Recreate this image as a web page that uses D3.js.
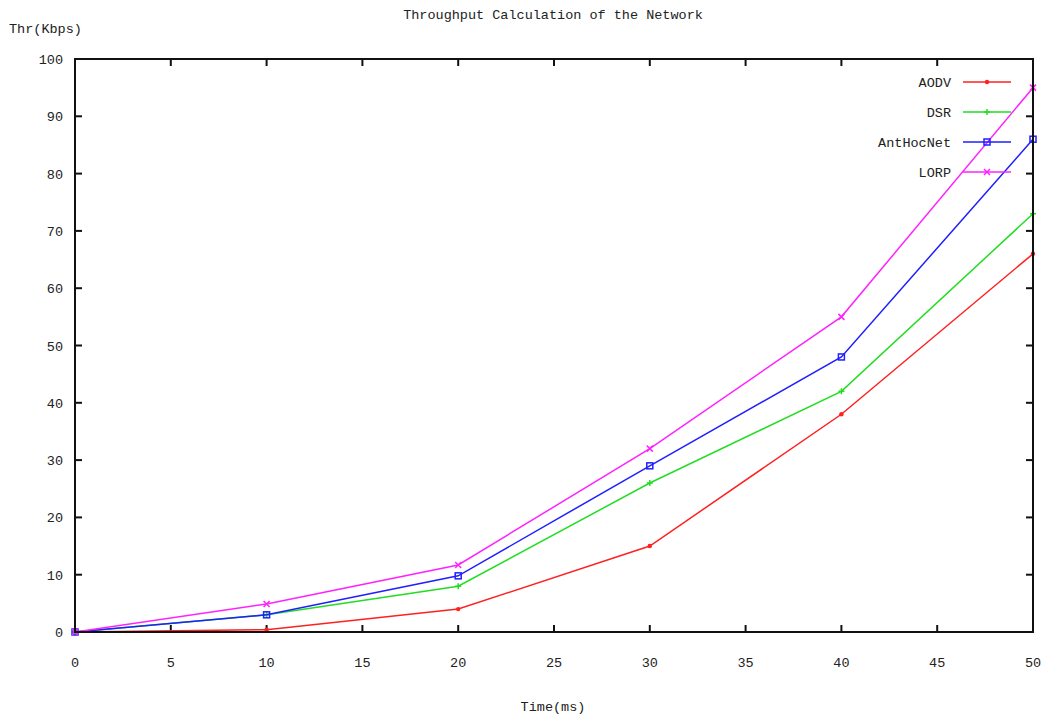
<!DOCTYPE html>
<html><head><meta charset="utf-8">
<script src="https://cdn.jsdelivr.net/npm/d3@7"></script>
<style>body{margin:0;background:#fff}svg{display:block}text{font-family:"Liberation Mono","DejaVu Sans Mono",monospace;fill:#222}</style>
</head><body>
<svg id="c" width="1049" height="717"></svg>
<script>
const xValues = [0, 10, 20, 30, 40, 50];
const aodv = [0, 0.4, 4, 15, 38, 66];
const dsr = [0, 3, 8, 26, 42, 73];
const antHocNet = [0, 3, 9.8, 29, 48, 86];
const lorp = [0, 4.9, 11.7, 32, 55, 95];
const seriesNames = ["AODV", "DSR", "AntHocNet", "LORP"];
const seriesColors = ["#ff2020", "#22dd22", "#1f1fff", "#ff22ff"];
const seriesMarkers = ["dot", "plus", "square", "cross"];
const xTicks = [0,5,10,15,20,25,30,35,40,45,50];
const yTicks = [0,10,20,30,40,50,60,70,80,90,100];
const title = "Throughput Calculation of the Network";
const xLabel = "Time(ms)";
const yLabel = "Thr(Kbps)";

const series = [aodv, dsr, antHocNet, lorp].map((v,i)=>({name:seriesNames[i], color:seriesColors[i], marker:seriesMarkers[i], values:v}));

const svg = d3.select("#c");
const L=75, R=1033, T=59, B=632;
const x = d3.scaleLinear().domain([0,50]).range([L,R]);
const y = d3.scaleLinear().domain([0,100]).range([B,T]);
const fs = "13.5px";

svg.append("text").attr("x",553).attr("y",19).attr("text-anchor","middle").style("font-size",fs).text(title);
svg.append("text").attr("x",9).attr("y",33).style("font-size",fs).text(yLabel);
svg.append("text").attr("x",553).attr("y",711).attr("text-anchor","middle").style("font-size",fs).text(xLabel);

const tk = svg.append("g").attr("stroke","#111").attr("stroke-width",2);
xTicks.forEach(t=>{
  tk.append("line").attr("x1",x(t)).attr("x2",x(t)).attr("y1",B).attr("y2",B-7);
  tk.append("line").attr("x1",x(t)).attr("x2",x(t)).attr("y1",T).attr("y2",T+7);
});
yTicks.forEach(t=>{
  tk.append("line").attr("y1",y(t)).attr("y2",y(t)).attr("x1",L).attr("x2",L+7);
  tk.append("line").attr("y1",y(t)).attr("y2",y(t)).attr("x1",R).attr("x2",R-7);
});
svg.append("g").selectAll("text").data(xTicks).join("text")
  .attr("x",d=>x(d)).attr("y",667).attr("text-anchor","middle").style("font-size",fs).text(d=>d);
svg.append("g").selectAll("text").data(yTicks).join("text")
  .attr("x",63).attr("y",d=>y(d)+5).attr("text-anchor","end").style("font-size",fs).text(d=>d);

function drawMarker(g, type, cx, cy, color){
  if(type==="dot") g.append("circle").attr("cx",cx).attr("cy",cy).attr("r",2.2).attr("fill",color);
  else if(type==="plus"){
    g.append("path").attr("d",`M${cx-3},${cy}H${cx+3}M${cx},${cy-3}V${cy+3}`).attr("stroke",color).attr("stroke-width",1.5);
  } else if(type==="square"){
    g.append("rect").attr("x",cx-3).attr("y",cy-3).attr("width",6).attr("height",6).attr("fill","none").attr("stroke",color).attr("stroke-width",1.5);
  } else {
    g.append("path").attr("d",`M${cx-3},${cy-3}L${cx+3},${cy+3}M${cx-3},${cy+3}L${cx+3},${cy-3}`).attr("stroke",color).attr("stroke-width",1.5);
  }
}

const line = d3.line().x((d,i)=>x(xValues[i])).y(d=>y(d));
series.forEach(s=>{
  const g = svg.append("g");
  g.append("path").attr("d",line(s.values)).attr("fill","none").attr("stroke",s.color).attr("stroke-width",1.5);
  s.values.forEach((v,i)=>drawMarker(g,s.marker,x(xValues[i]),y(v),s.color));
});

series.forEach((s,i)=>{
  const ly = 82 + i*30;
  const g = svg.append("g");
  g.append("text").attr("x",951).attr("y",ly+5).attr("text-anchor","end").style("font-size",fs).text(s.name);
  g.append("line").attr("x1",963).attr("x2",1011).attr("y1",ly).attr("y2",ly).attr("stroke",s.color).attr("stroke-width",1.5);
  drawMarker(g,s.marker,987,ly,s.color);
});

svg.append("rect").attr("x",L).attr("y",T).attr("width",R-L).attr("height",B-T).attr("fill","none").attr("stroke","#111").attr("stroke-width",2);
</script>
</body></html>
